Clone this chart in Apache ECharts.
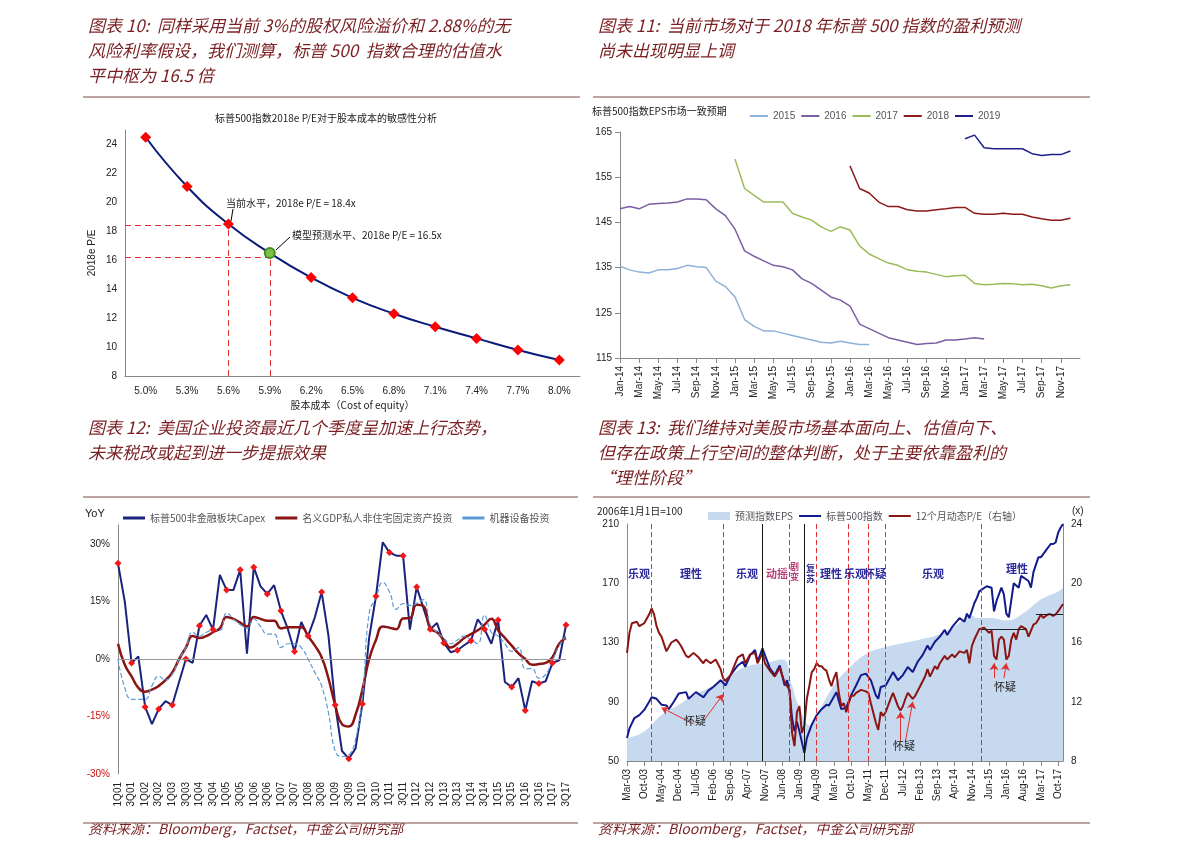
<!DOCTYPE html>
<html>
<head>
<meta charset="utf-8">
<script src="https://cdn.jsdelivr.net/npm/echarts@6/dist/echarts.min.js"></script>
<style>
html,body{margin:0;padding:0;background:#fff;}
#main{width:1191px;height:863px;}
</style>
</head>
<body>
<div id="main"></div>
<script>
// ---------- 图表10 ----------
const costCats = ['5.0%','5.3%','5.6%','5.9%','6.2%','6.5%','6.8%','7.1%','7.4%','7.7%','8.0%'];
const peValues = [24.5,21.1,18.5,16.5,14.8,13.4,12.3,11.4,10.6,9.8,9.1];

// ---------- 图表11 (月度, 2014-01 起) ----------
const epsYears = ['2015','2016','2017','2018','2019'];
const eps2015 = [135.3,134.5,134,133.8,134.5,134.5,134.8,135.5,135.2,135,132,130.8,128.5,123.5,122,121,121,120.5,120,119.5,119,118.5,118.3,118.7,118.3,118,118];
const eps2016 = [148,148.5,148,149,149.2,149.3,149.5,150.2,150.2,150,148,146.5,143.5,138.7,137.5,136.5,135.5,135.2,134.5,132.5,131.5,130,128.5,127.8,126.5,122.5,121.5,120.5,119.5,119,118.5,118,118.2,118.3,119,119,119.2,119.5,119.2];
const eps2017 = [159,152.5,151,149.5,149.5,149.5,147,146.2,145.5,144,143,144,143.3,139.8,138,137,136,135.5,134.5,134.2,134,133.5,133,133.2,133.3,131.5,131.2,131.3,131.5,131.4,131.2,131.3,131,130.5,131,131.2];
const eps2018 = [157.5,152.5,151.5,149.5,148.5,148.5,147.8,147.5,147.5,147.8,148,148.3,148.3,147,146.8,146.8,147,146.8,146.8,146.2,145.8,145.5,145.5,145.9];
const eps2019 = [163.5,164.3,161.5,161.3,161.3,161.3,161.3,160.2,159.8,160,160,160.8];
const epsStart = [0,0,12,24,36]; // 起始月份序号

// ---------- 图表12 (季度) ----------
const quarters = [];
for (let y = 1; y <= 17; y++) for (let q = 1; q <= 4; q++) if (!(y === 17 && q === 4)) quarters.push(q + 'Q' + String(y).padStart(2,'0'));
const capex = [25,15,-1,0.7, -12.5,-17,-13,-11, -12,-6,0,-1, 8.7,11.5,7.7,22, 18,18,23.3,1.4, 24,19,17,19.3, 12.6,8,2,9.7, 6,10.9,17.5,6.2,
  -12,-24,-26,-23.3, -11.7,5.5,16.4,30.5, 27.8,27,27,7.7, 18.8,13.3,7.8,9.4, 4.2,1.8,2.3,3.6, 4.8,10.4,7.8,4, 10.2,-6,-7.3,-5, -13.4,-5.8,-6.4,-5.8, -1,-0.3,8.9];
const gdpInv = [4,-1.5,-4.5,-7.5, -8.5,-8,-7,-5.5, -3.5,0,3,6, 5.5,6,7,8, 11,10.5,9.5,8.5, 11,10.5,10,10, 8,8.3,8.3,8.3, 6,3.5,0.5,-5,
  -12,-17,-17.6,-14.5, -8,0,5,8.5, 8.2,7.8,10.6,10.7, 14.2,13.8,8,7, 5,3,4,5.5, 6.5,7.5,9,10.5, 7.5,5.5,3.5,1.5, 0,-1.5,-1.3,-1, 0.5,4,5.5];
const machinery = [0,-7.5,-10.5,-10.5, -10.5,-7,-4.5,-5.5, -4,0,3,7, 6,7,7.5,7.5, 12,10.5,9,8, 10.5,8.5,6.5,6.5, 3,4,4,3, 0,-3.5,-7,-14,
  -24,-25.5,-25,-21, -10,12,16,20, 17.5,13,14.5,14, 14.5,15.5,9,7, 5.5,4,5,6, 5,4,11.5,7, 6,4,2,3, -2.5,-2.5,-5,-4, -0.5,3.5,6];

// ---------- 图表13 (月份 'YY-MM', 2003-03 为 0) ----------
const epsIndex = [['03-03',65.5],['03-10',70],['04-05',81],['04-12',88],['05-07',95],['06-02',101],['06-09',108],['07-04',114],['07-11',116],['08-06',118.5],
  ['08-10',101],['08-12',90],['09-03',79],['09-05',74],['09-08',81],['10-03',101],['10-10',114],['11-05',123],['11-12',127],['12-07',129.5],['13-02',132],
  ['13-09',135],['14-04',141],['14-11',148],['15-01',146.5],['15-06',146.5],['16-01',145],['16-08',150],['17-03',159],['17-10',164.5],['17-12',167]];
const spx = [['03-03',65.5],['03-04',72],['03-06',79],['03-08',81],['03-10',84.5],['03-12',90],['04-01',93],['04-03',92],['04-05',88],['04-07',87.5],['04-08',85],
  ['04-10',90],['04-12',95.5],['05-03',96.5],['05-04',92],['05-07',96.5],['05-10',93],['05-12',97.5],['06-02',100],['06-05',104.5],['06-07',101],['06-09',108],
  ['06-12',114.5],['07-02',117],['07-03',113.5],['07-05',121.5],['07-07',125],['07-08',117],['07-10',126],['07-11',121.5],['08-01',112.5],['08-03',108],['08-05',114.5],
  ['08-07',101],['08-08',104.5],['08-09',96.5],['08-10',79],['08-11',70],['08-12',76.5],['09-01',70],['09-03',55.5],['09-04',65.5],['09-06',74.5],['09-08',81],
  ['09-10',85],['09-12',88],['10-01',87.5],['10-04',96.5],['10-06',85],['10-08',86],['10-10',94.5],['10-12',101],['11-02',108],['11-04',109],['11-06',104.5],
  ['11-08',94.5],['11-09',92],['11-10',100],['11-12',101],['12-03',110],['12-05',104.5],['12-07',108],['12-09',113.5],['12-11',110],['13-01',117],['13-03',121.5],
  ['13-05',128],['13-06',125],['13-08',130.5],['13-10',134],['13-12',138.5],['14-01',135],['14-03',140.5],['14-06',146.5],['14-08',144],['14-09',149.5],['14-10',146.5],
  ['14-12',156.5],['15-01',160],['15-02',164.5],['15-05',168],['15-07',167],['15-08',151],['15-09',158],['15-11',167],['15-12',162.5],['16-01',149.5],['16-02',147],
  ['16-04',170],['16-06',167],['16-07',175],['16-10',171.5],['16-11',167],['16-12',177.5],['17-02',187.5],['17-03',187.5],['17-05',192],['17-07',196.5],['17-08',196.5],
  ['17-09',197.5],['17-10',204],['17-11',207.5],['17-12',210]];
const fwdPE = [['03-03',15.3],['03-04',16.65],['03-05',17.3],['03-07',17.4],['03-08',17.1],['03-10',17.3],['03-12',17.9],['04-01',18.3],['04-02',17.9],['04-03',17.1],
  ['04-04',16.65],['04-05',16.4],['04-07',15.4],['04-09',16],['04-11',16.2],['04-12',16],['05-01',15.75],['05-03',15.1],['05-04',15],['05-06',15.3],['05-08',15],
  ['05-10',14.6],['05-11',14.85],['06-01',14.6],['06-03',14.85],['06-05',14.2],['06-06',13.6],['06-07',13.4],['06-09',13.8],['06-11',14.6],['06-12',15],['07-02',15.2],
  ['07-03',14.6],['07-05',15.2],['07-07',15.3],['07-08',14.6],['07-10',15.3],['07-11',14.6],['08-01',14.1],['08-03',13.7],['08-05',14.3],['08-07',13.3],['08-09',12.8],
  ['08-10',9.9],['08-11',9],['08-12',11.3],['09-01',11.7],['09-02',9.9],['09-03',10.4],['09-04',12.2],['09-05',13.05],['09-06',14],['09-07',14.2],['09-08',14.6],
  ['09-09',14.4],['09-10',14.4],['09-11',14.2],['09-12',14.1],['10-01',13.5],['10-02',13.05],['10-03',13.6],['10-04',14],['10-05',12.6],['10-06',11.7],['10-07',11.9],
  ['10-08',11.3],['10-09',11.9],['10-10',12.4],['10-11',12.4],['10-12',12.6],['11-02',12.8],['11-04',12.7],['11-05',12.6],['11-06',11.9],['11-08',10.6],['11-09',10.1],
  ['11-10',11.3],['11-11',11.05],['11-12',11.3],['12-02',12.2],['12-03',12.6],['12-05',11.7],['12-06',11.4],['12-07',11.7],['12-08',12.2],['12-09',12.6],['12-10',12.4],
  ['12-11',12.2],['12-12',12.4],['13-02',13.05],['13-04',13.7],['13-05',14.2],['13-06',13.7],['13-08',14.4],['13-09',14.2],['13-10',14.6],['13-12',15.1],['14-01',14.85],
  ['14-03',15.2],['14-04',15],['14-06',15.4],['14-08',15.3],['14-09',15.5],['14-10',14.6],['14-11',15.75],['14-12',16.2],['15-02',16.9],['15-04',17],['15-06',16.65],
  ['15-07',16.8],['15-08',15.1],['15-09',14.85],['15-10',16.2],['15-11',16.4],['15-12',16.2],['16-01',14.85],['16-02',15.1],['16-03',16.2],['16-04',16.65],['16-05',16.2],
  ['16-06',16.9],['16-07',17.1],['16-08',17],['16-09',16.9],['16-10',16.4],['16-11',16.8],['16-12',17.2],['17-01',17.3],['17-02',17.55],['17-03',17.9],['17-04',17.65],
  ['17-05',17.8],['17-06',17.9],['17-07',17.9],['17-08',17.8],['17-09',17.9],['17-10',18.1],['17-11',18.35],['17-12',18.6]];
const redLines = ['04-01','06-06','08-09','09-08','10-09','11-05','11-12','15-03'];
const blackLines = ['07-10','09-03'];
const monthNames = ['Jan','Feb','Mar','Apr','May','Jun','Jul','Aug','Sep','Oct','Nov','Dec'];

function mi(s){ const p = s.split('-'); return (+p[0]-3)*12 + (+p[1]) - 3; }
function pairs(arr){ return arr.map(d => [mi(d[0]), d[1]]); }
function monthLabel(i, y0, m0){ const t = y0*12 + m0 + i; return monthNames[t%12] + '-' + String(Math.floor(t/12) % 100).padStart(2,'0'); }
// 图表10 用半格坐标：第 i 个类别位于 2i+1
const cx = i => 2*i + 1;

const RED = '#7a1f22', CJK = '"Noto Sans CJK SC", sans-serif';
const chart = echarts.init(document.getElementById('main'));

function txt(x, y, s, st){ return {type:'text', z:100, left:x, top:y, style:Object.assign({text:s, font:'12px '+CJK, fill:'#222'}, st||{})}; }
function head(x, y, s){ return {type:'text', z:100, left:x, top:y, style:{text:s, font:'italic 17px '+CJK, fill:RED}}; }
function rule(x1, x2, y){ return {type:'line', z:100, shape:{x1:x1,y1:y,x2:x2,y2:y}, style:{stroke:'#a88484', lineWidth:1.5}}; }

const graphics = [
  head(88, 17, '图表 10:  同样采用当前 3%的股权风险溢价和 2.88%的无'),
  head(88, 42, '风险利率假设，我们测算，标普 500  指数合理的估值水'),
  head(88, 67, '平中枢为 16.5 倍'),
  head(598, 17, '图表 11:  当前市场对于 2018 年标普 500 指数的盈利预测'),
  head(598, 42, '尚未出现明显上调'),
  head(88, 419, '图表 12:  美国企业投资最近几个季度呈加速上行态势，'),
  head(88, 444, '未来税改或起到进一步提振效果'),
  head(598, 419, '图表 13:  我们维持对美股市场基本面向上、估值向下、'),
  head(598, 444, '但存在政策上行空间的整体判断，处于主要依靠盈利的'),
  head(598, 469, '“理性阶段”'),
  {type:'text', z:100, left:88, top:822, style:{text:'资料来源：Bloomberg，Factset，中金公司研究部', font:'italic 14px '+CJK, fill:RED}},
  {type:'text', z:100, left:598, top:822, style:{text:'资料来源：Bloomberg，Factset，中金公司研究部', font:'italic 14px '+CJK, fill:RED}},
  rule(83, 580, 97), rule(593, 1090, 97), rule(83, 578, 497), rule(593, 1090, 497), rule(83, 578, 823), rule(593, 1090, 823),
  txt(215, 113, '标普500指数2018e P/E对于股本成本的敏感性分析', {font:'10px '+CJK}),
  txt(226, 198, '当前水平，2018e P/E = 18.4x', {font:'10px '+CJK}),
  txt(292, 230, '模型预测水平、2018e P/E = 16.5x', {font:'10px '+CJK}),
  txt(592, 106, '标普500指数EPS市场一致预期', {font:'10px '+CJK}),
  txt(85, 508, 'YoY', {font:'11px Arial'}),
  txt(597, 506, '2006年1月1日=100', {font:'10px '+CJK}),
  txt(1072, 506, '(x)', {font:'10px Arial'}),
  {type:'line', z:100, shape:{x1:233,y1:209,x2:231,y2:221}, style:{stroke:'#000', lineWidth:1}},
  {type:'line', z:100, shape:{x1:290,y1:237,x2:276,y2:250}, style:{stroke:'#000', lineWidth:1}}
];
const phases = [[628,568,'乐观','#2b2b9a'],[680,568,'理性','#2b2b9a'],[736,568,'乐观','#2b2b9a'],[766,568,'动摇','#b8407a'],
  [820,568,'理性','#2b2b9a'],[844,568,'乐观','#2b2b9a'],[864,568,'怀疑','#2b2b9a'],[922,568,'乐观','#2b2b9a'],[1006,563,'理性','#2b2b9a']];
phases.forEach(p => graphics.push(txt(p[0], p[1], p[2], {font:'bold 11px '+CJK, fill:p[3]})));
graphics.push(txt(790, 562, '剧\n变', {font:'bold 9px '+CJK, fill:'#b8407a', lineHeight:10}));
graphics.push(txt(806, 564, '复\n苏', {font:'bold 9px '+CJK, fill:'#2b2b9a', lineHeight:10}));
[[684,715],[893,740],[994,681]].forEach(p => graphics.push(txt(p[0], p[1], '怀疑', {font:'11px '+CJK, fill:'#222'})));

const axisTxt = {color:'#222', fontSize:10, fontFamily:'Arial'};

const epsColors = ['#8eb1d9','#7c5ea5','#9bbb59','#8b1a1a','#1f1f8f'];
const epsSeries = [eps2015, eps2016, eps2017, eps2018, eps2019].map((arr, k) => ({
  name: epsYears[k], type:'line', xAxisIndex:1, yAxisIndex:1, showSymbol:false, symbol:'none',
  lineStyle:{width:1.5, color:epsColors[k]}, itemStyle:{color:epsColors[k]},
  data: arr.map((v, i) => [epsStart[k] + i, v])
}));

const arrowLine = (from, to) => [{coord:from}, {coord:to}];
const redDash = {color:'#e03030', type:[6,4], width:1};
const guide = (a, b) => [{coord:a, lineStyle:redDash}, {coord:b, lineStyle:redDash}];

chart.setOption({
  animation:false,
  backgroundColor:'#fff',
  graphic: graphics,
  legend: [
    {left:745, top:106, itemWidth:18, itemHeight:2, itemGap:6, icon:'rect', textStyle:{fontSize:10, fontFamily:'Arial'}, data:epsYears},
    {left:118, top:508, itemWidth:22, itemHeight:3, itemGap:10, textStyle:{fontSize:10, fontFamily:CJK},
     data:[{name:'标普500非金融板块Capex', icon:'rect', itemStyle:{color:'#1a237e'}},{name:'名义GDP私人非住宅固定资产投资', icon:'rect'},{name:'机器设备投资', icon:'rect'}]},
    {left:703, top:506, itemWidth:22, itemHeight:8, itemGap:6, textStyle:{fontSize:10, fontFamily:CJK},
     data:[{name:'预测指数EPS', icon:'rect'},{name:'标普500指数', icon:'path://M0,3.5H22V5.5H0Z'},{name:'12个月动态P/E（右轴）', icon:'path://M0,3.5H22V5.5H0Z'}]}
  ],
  grid: [
    {left:125, right:611, top:130, bottom:487},
    {left:620, right:111, top:132, bottom:505},
    {left:118, right:625, top:525, bottom:89},
    {left:627, right:128, top:524, bottom:102}
  ],
  xAxis: [
    {gridIndex:0, type:'value', min:0, max:22, interval:1, splitLine:{show:false}, axisLine:{lineStyle:{color:'#888'}}, axisTick:{show:false},
     axisLabel:Object.assign({margin:10, formatter:v => v % 2 === 1 ? costCats[(v-1)/2] : ''}, axisTxt),
     name:'股本成本（Cost of equity）', nameLocation:'middle', nameGap:24,
     nameTextStyle:{fontSize:10, fontFamily:CJK, color:'#222'}},
    {gridIndex:1, type:'value', min:0, max:48, interval:2, splitLine:{show:false}, axisLine:{lineStyle:{color:'#888'}}, axisTick:{show:true, lineStyle:{color:'#888'}},
     axisLabel:Object.assign({rotate:90, showMaxLabel:false, formatter:v => monthLabel(v, 2014, 0)}, axisTxt)},
    {gridIndex:2, type:'category', data:quarters, boundaryGap:false, axisLine:{show:false}, axisTick:{show:false},
     axisLabel:Object.assign({rotate:90, interval:1}, axisTxt)},
    {gridIndex:3, type:'value', min:0, max:177, interval:7, splitLine:{show:false}, axisLine:{lineStyle:{color:'#888'}}, axisTick:{lineStyle:{color:'#888'}},
     axisLabel:Object.assign({rotate:90, showMaxLabel:false, formatter:v => monthLabel(v, 2003, 2)}, axisTxt)}
  ],
  yAxis: [
    {gridIndex:0, type:'value', min:8, max:25, interval:2, splitLine:{show:false}, axisLine:{show:true, lineStyle:{color:'#888'}},
     axisTick:{show:false}, axisLabel:Object.assign({showMaxLabel:false}, axisTxt),
     name:'2018e P/E', nameLocation:'middle', nameGap:28, nameTextStyle:{fontSize:10, fontFamily:'Arial', color:'#222'}},
    {gridIndex:1, type:'value', min:115, max:165, interval:10, splitLine:{show:false}, axisLine:{show:true, lineStyle:{color:'#888'}},
     axisTick:{show:true, lineStyle:{color:'#888'}}, axisLabel:axisTxt},
    {gridIndex:2, type:'value', min:-30, max:35, interval:15, splitLine:{show:false}, axisLine:{show:true, lineStyle:{color:'#888'}},
     axisTick:{show:false}, axisLabel:{fontSize:10, fontFamily:'Arial', showMaxLabel:false, formatter:v => v + '%',
       color: v => v < 0 ? '#d01010' : '#222'}},
    {gridIndex:3, type:'value', min:50, max:210, interval:40, splitLine:{show:false}, axisLine:{show:true, lineStyle:{color:'#888'}},
     axisTick:{show:false}, axisLabel:axisTxt},
    {gridIndex:3, type:'value', position:'right', min:8, max:24, interval:4, splitLine:{show:false}, axisLine:{show:true, lineStyle:{color:'#888'}},
     axisTick:{show:false}, axisLabel:axisTxt}
  ],
  series: [
    {type:'line', xAxisIndex:0, yAxisIndex:0, data:peValues.map((v, i) => [cx(i), v]), smooth:true, symbol:'diamond', symbolSize:11,
     lineStyle:{color:'#0a1a7a', width:2}, itemStyle:{color:'#ff0000'},
     markPoint:{symbol:'circle', symbolSize:10, itemStyle:{color:'#7cc242', borderColor:'#4a8a2a'}, label:{show:false},
       data:[{coord:[cx(3), peValues[3]]}]},
     markLine:{silent:true, symbol:'none', lineStyle:redDash, label:{show:false},
       data:[
         guide([0, 18.4], [cx(2), 18.4]),
         guide([cx(2), 8], [cx(2), 18.4]),
         guide([0, 16.2], [cx(3), 16.2]),
         guide([cx(3), 8], [cx(3), 16.2])
       ]}},
    ...epsSeries,
    {name:'标普500非金融板块Capex', type:'line', xAxisIndex:2, yAxisIndex:2, data:capex, symbol:'diamond', symbolSize:7,
     lineStyle:{color:'#1a237e', width:2}, itemStyle:{color:'#f01818'},
     markLine:{silent:true, symbol:'none', label:{show:false}, lineStyle:{color:'#999', type:'solid', width:1}, data:[{yAxis:0}]}},
    {name:'名义GDP私人非住宅固定资产投资', type:'line', xAxisIndex:2, yAxisIndex:2, data:gdpInv, smooth:true, showSymbol:false,
     lineStyle:{color:'#8b1414', width:2.5}, itemStyle:{color:'#8b1414'}},
    {name:'机器设备投资', type:'line', xAxisIndex:2, yAxisIndex:2, data:machinery, smooth:true, showSymbol:false,
     lineStyle:{color:'#5b9bd5', width:1.2, type:'dashed'}, itemStyle:{color:'#5b9bd5'}},
    {name:'预测指数EPS', type:'line', xAxisIndex:3, yAxisIndex:3, data:pairs(epsIndex), smooth:true, showSymbol:false,
     lineStyle:{width:0}, areaStyle:{color:'#c6d9ee', opacity:1}, itemStyle:{color:'#c6d9ee'},
     markLine:{silent:true, symbol:'none', label:{show:false},
       data:[...redLines.map(m => ({xAxis:mi(m), lineStyle:{color:'#e03030', type:[5,3], width:1}})),
             ...blackLines.map(m => ({xAxis:mi(m), lineStyle:{color:'#111', type:'solid', width:1}}))]}},
    {name:'标普500指数', type:'line', xAxisIndex:3, yAxisIndex:3, data:pairs(spx), showSymbol:false,
     lineStyle:{color:'#121a8c', width:2}, itemStyle:{color:'#121a8c'},
     markLine:{silent:true, symbol:['none','arrow'], symbolSize:7, label:{show:false}, lineStyle:{color:'#e03030', type:'solid', width:1},
       data:[arrowLine([mi('05-06'),75], [mi('04-05'),86]), arrowLine([mi('05-10'),77], [mi('06-06'),95]),
             arrowLine([mi('12-06'),63], [mi('12-06'),83]), arrowLine([mi('12-08'),63], [mi('12-11'),90]),
             arrowLine([mi('15-08'),106], [mi('15-08'),116]), arrowLine([mi('15-12'),106], [mi('16-01'),116])]}},
    {name:'12个月动态P/E（右轴）', type:'line', xAxisIndex:3, yAxisIndex:4, data:pairs(fwdPE), showSymbol:false,
     lineStyle:{color:'#8b1414', width:2}, itemStyle:{color:'#8b1414'},
     markLine:{silent:true, symbol:'none', label:{show:false}, lineStyle:{color:'#222', type:'solid', width:1},
       data:[[{coord:[mi('15-03'),16.9]}, {coord:[mi('16-09'),16.9]}], [{coord:[mi('17-01'),17.9]}, {coord:[mi('17-12'),17.9]}]]}}
  ]
});
</script>
</body>
</html>
